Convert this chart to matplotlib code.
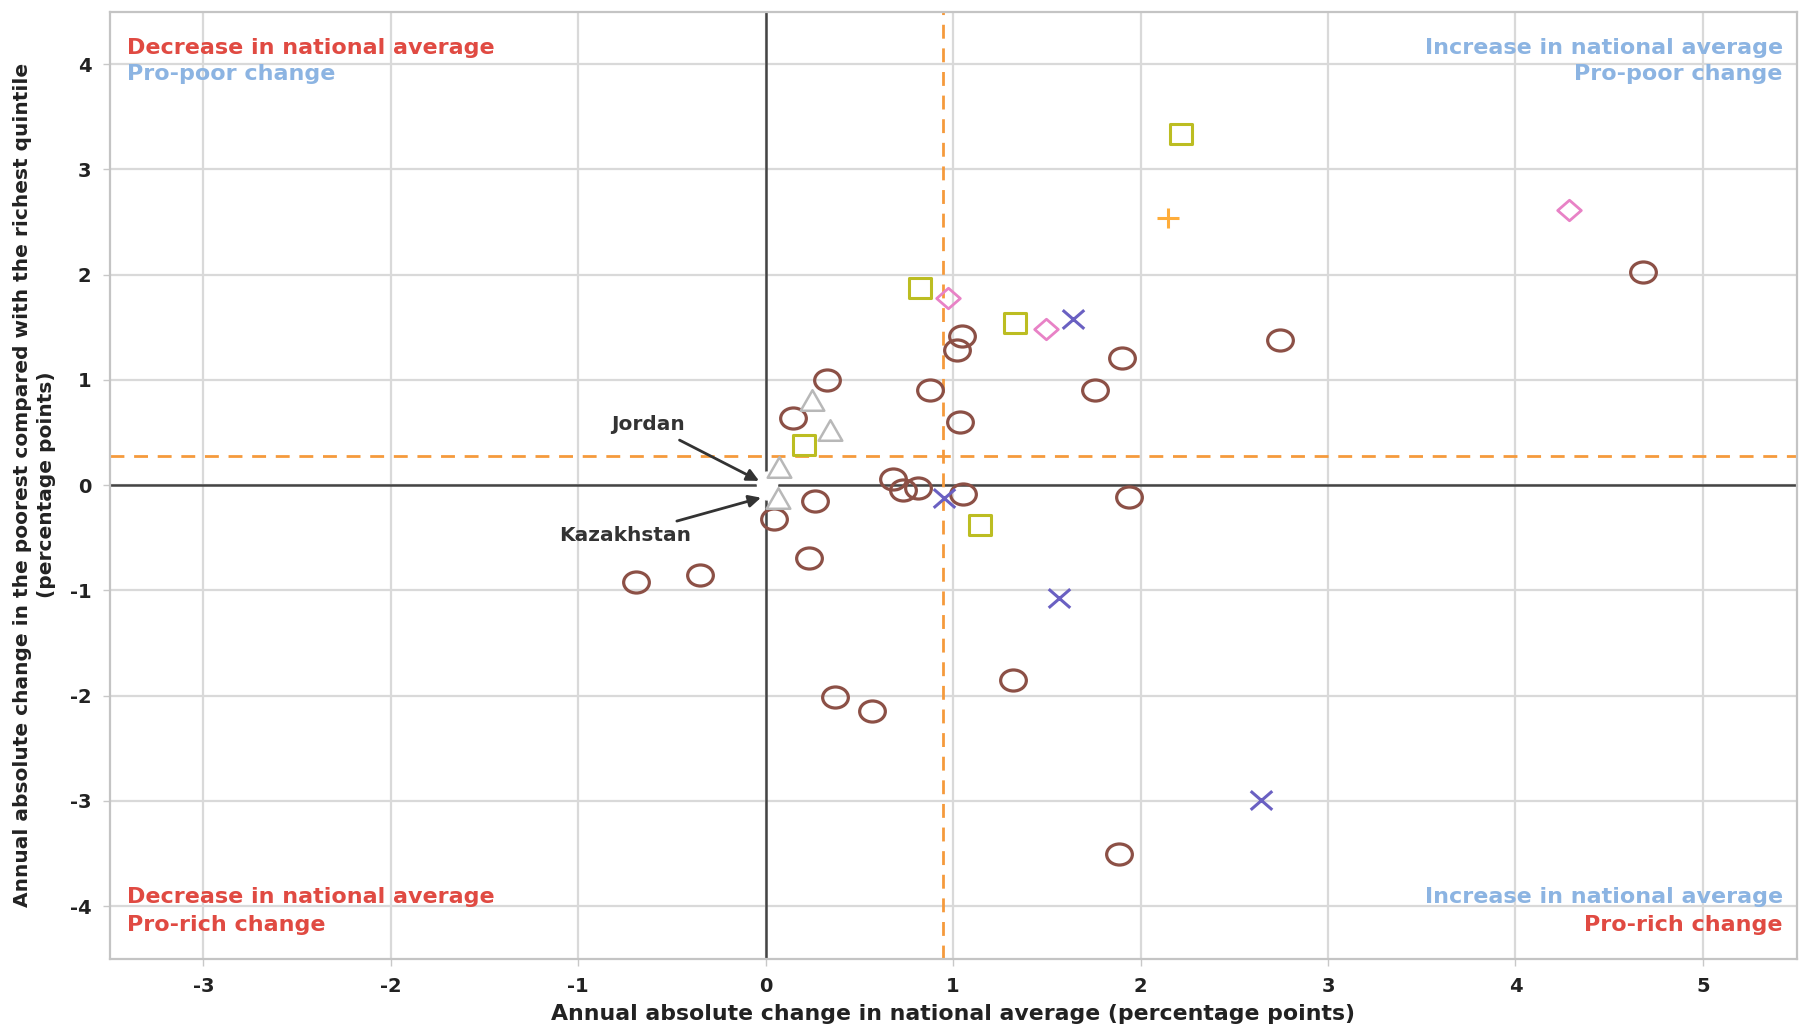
import matplotlib
matplotlib.use("Agg")
import matplotlib.pyplot as plt
from matplotlib.markers import MarkerStyle
from matplotlib.path import Path

plt.rcParams['font.family'] = ['DejaVu Sans']
plt.rcParams['axes.unicode_minus'] = False

# ---- data ----
circle_x = [0.329, 0.144, 0.878, 1.045, 1.020, 1.037, 1.903, 1.759, 2.743, 4.678,
            0.680, 0.734, 0.811, 1.055, 1.941, 0.266, 0.047, 0.229, -0.349, -0.690,
            0.368, 0.570, 1.318, 1.884]
circle_y = [0.997, 0.639, 0.902, 1.415, 1.282, 0.595, 1.209, 0.908, 1.374, 2.022,
            0.054, -0.047, -0.032, -0.089, -0.117, -0.149, -0.326, -0.696, -0.854, -0.924,
            -2.013, -2.143, -1.855, -3.508]
square_x = [2.216, 0.826, 1.332, 0.203, 1.146]
square_y = [3.333, 1.877, 1.542, 0.380, -0.380]
diamond_x = [4.287, 0.974, 1.497]
diamond_y = [2.615, 1.778, 1.483]
cross_x = [1.638, 0.949, 1.566, 2.641]
cross_y = [1.575, -0.127, -1.070, -2.990]
plus_x = [2.146]
plus_y = [2.540]
tri_x = [0.249, 0.341, 0.071, 0.067]
tri_y = [0.807, 0.522, 0.174, -0.127]
labelled_names = ["Jordan", "Kazakhstan"]
labelled_x = [0.005, 0.005]
labelled_y = [0.03, -0.04]
avg_x = 0.946
avg_y = 0.280

x_ticks = [-3, -2, -1, 0, 1, 2, 3, 4, 5]
y_ticks = [-4, -3, -2, -1, 0, 1, 2, 3, 4]

# ---- style ----
RED = "#e04a42"
BLUE = "#8cb4e2"
ORANGE = "#f59a3c"

def stretched(m, sx=1.15):
    ms = MarkerStyle(m)
    p = ms.get_path().transformed(ms.get_transform())
    return Path(p.vertices * [sx, 1.0], p.codes)

fig = plt.figure(figsize=(18.08, 10.29), dpi=100)
ax = fig.add_axes([0.0606, 0.0684, 0.9331, 0.9204])
ax.set_xlim(-3.5, 5.5)
ax.set_ylim(-4.5, 4.5)
ax.set_xticks(x_ticks)
ax.set_yticks(y_ticks)
ax.grid(True, color="#d9d9d9", lw=1.6, zorder=0)
ax.set_axisbelow(True)
for s in ax.spines.values():
    s.set_color("#c4c4c4")
    s.set_linewidth(1.6)
ax.tick_params(axis='both', length=5, width=1, color="#c8c8c8", labelsize=14,
               labelcolor="#222222", pad=8)
for lab in ax.get_xticklabels() + ax.get_yticklabels():
    lab.set_fontweight('bold')

ax.axhline(0, color="#444444", lw=1.8, zorder=1)
ax.axvline(0, color="#444444", lw=1.8, zorder=1)
ax.axhline(avg_y, color=ORANGE, lw=2, ls=(0, (5, 3.5)), zorder=1.5)
ax.axvline(avg_x, color=ORANGE, lw=2, ls=(0, (5, 3.5)), zorder=1.5)

ax.plot(circle_x, circle_y, ls='none', marker=stretched('o', 1.22), ms=18.5,
        mfc='none', mec="#8c5046", mew=2.3, zorder=3)
ax.plot(square_x, square_y, ls='none', marker=stretched('s', 1.2), ms=16.5,
        mfc='none', mec="#bcbd22", mew=2.2, zorder=3)
ax.plot(diamond_x, diamond_y, ls='none', marker=stretched('D', 1.15), ms=17,
        mfc='none', mec="#e882c6", mew=2.0, zorder=3)
ax.plot(cross_x, cross_y, ls='none', marker=stretched('x', 1.15), ms=15.5,
        mfc='none', mec="#6a60c2", mew=2.2, zorder=3)
ax.plot(plus_x, plus_y, ls='none', marker=stretched('+', 1.15), ms=16,
        mfc='none', mec="#ffad3a", mew=2.2, zorder=3)
ax.plot(tri_x, tri_y, ls='none', marker=stretched('^', 1.15), ms=17,
        mfc='white', mec="#b8b8b8", mew=1.8, zorder=3)
ax.plot(labelled_x, labelled_y, ls='none', marker='o', ms=15,
        mfc='white', mec='white', mew=1, zorder=2.5)

# annotations
ax.annotate(labelled_names[0], xy=(labelled_x[0] - 0.04, labelled_y[0] + 0.01),
            xytext=(-0.43, 0.58), ha='right', va='center', fontsize=14.5,
            color="#333333", fontweight='bold',
            arrowprops=dict(arrowstyle='-|>', color="#333333", lw=2,
                            mutation_scale=18, shrinkA=6, shrinkB=0), zorder=4)
ax.annotate(labelled_names[1], xy=(labelled_x[1] - 0.03, labelled_y[1] - 0.08),
            xytext=(-0.40, -0.48), ha='right', va='center', fontsize=14.5,
            color="#333333", fontweight='bold',
            arrowprops=dict(arrowstyle='-|>', color="#333333", lw=2,
                            mutation_scale=18, shrinkA=6, shrinkB=0), zorder=4)

# quadrant labels
fs = 16
ax.text(0.0105, 0.962, "Decrease in national average", transform=ax.transAxes,
        color=RED, fontsize=fs, fontweight='bold', ha='left', va='center')
ax.text(0.0105, 0.934, "Pro-poor change", transform=ax.transAxes,
        color=BLUE, fontsize=fs, fontweight='bold', ha='left', va='center')
ax.text(0.9918, 0.962, "Increase in national average", transform=ax.transAxes,
        color=BLUE, fontsize=fs, fontweight='bold', ha='right', va='center')
ax.text(0.9918, 0.934, "Pro-poor change", transform=ax.transAxes,
        color=BLUE, fontsize=fs, fontweight='bold', ha='right', va='center')
ax.text(0.0105, 0.0655, "Decrease in national average", transform=ax.transAxes,
        color=RED, fontsize=fs, fontweight='bold', ha='left', va='center')
ax.text(0.0105, 0.0355, "Pro-rich change", transform=ax.transAxes,
        color=RED, fontsize=fs, fontweight='bold', ha='left', va='center')
ax.text(0.9918, 0.0655, "Increase in national average", transform=ax.transAxes,
        color=BLUE, fontsize=fs, fontweight='bold', ha='right', va='center')
ax.text(0.9918, 0.0355, "Pro-rich change", transform=ax.transAxes,
        color=RED, fontsize=fs, fontweight='bold', ha='right', va='center')

ax.set_xlabel("Annual absolute change in national average (percentage points)",
              fontsize=15.8, fontweight='bold', color="#222222", labelpad=6)
ax.set_ylabel("Annual absolute change in the poorest compared with the richest quintile\n(percentage points)",
              fontsize=14.5, fontweight='bold', color="#222222", labelpad=10,
              linespacing=1.3)

fig.savefig("out.png", dpi=100)
